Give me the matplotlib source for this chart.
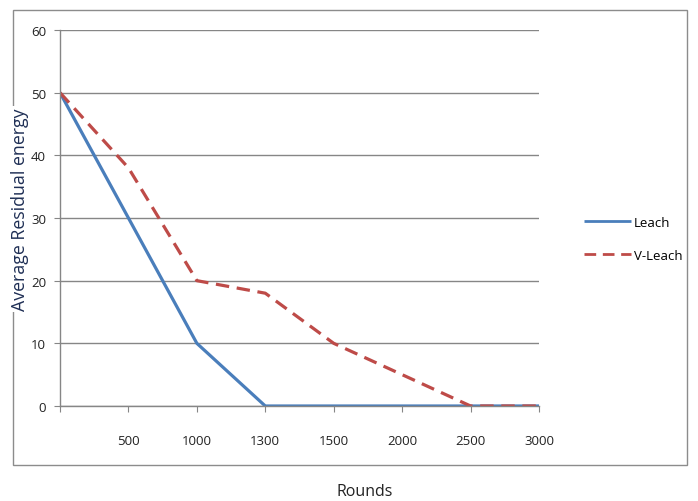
import matplotlib
matplotlib.use("Agg")
import matplotlib.pyplot as plt
from matplotlib.patches import Rectangle

categories = ["", "500", "1000", "1300", "1500", "2000", "2500", "3000"]
leach = [50, 30, 10, 0, 0, 0, 0, 0]
vleach = [50, 38, 20, 18, 10, 5, 0, 0]
yticks = [0, 10, 20, 30, 40, 50, 60]

plt.rcParams['font.family'] = ['Open Sans', 'DejaVu Sans']

fig = plt.figure(figsize=(6.98, 5.02), dpi=100)
ax = fig.add_axes([60/698, 1-407/502, (539-60)/698, (407-31)/502])

# chart border
fig.patches.append(Rectangle((13/698, 1-466/502), 674/698, 455/502,
                             transform=fig.transFigure, fill=False,
                             edgecolor='#8c8c8c', linewidth=1.0))

x = list(range(len(categories)))
ax.plot(x, leach, color='#4A7EBB', linewidth=2.3, label='Leach', solid_capstyle='butt')
ax.plot(x, vleach, color='#BE4B48', linewidth=2.3, linestyle=(0, (4.2, 2.4)), label='V-Leach')

ax.set_xlim(0, len(categories) - 1)
ax.set_ylim(0, 60)
ax.set_yticks(yticks)
ax.set_yticklabels([str(v) for v in yticks])
ax.set_xticks(x)
ax.set_xticklabels(categories)

ax.grid(axis='y', color='#868686', linewidth=1.0)
ax.set_axisbelow(True)
for s in ['top', 'right']:
    ax.spines[s].set_visible(False)
for s in ['left', 'bottom']:
    ax.spines[s].set_color('#868686')
    ax.spines[s].set_linewidth(1.0)

ax.tick_params(axis='x', direction='out', length=4, color='#868686', labelsize=9.5,
               labelcolor='#222222', pad=16)
ax.tick_params(axis='y', direction='out', length=4, color='#868686', labelsize=9.5,
               labelcolor='#222222', pad=6)

fig.text(20/698, 1-210/502, 'Average Residual energy', rotation=90, ha='center', va='center',
         fontsize=12.8, color='#1f2f55',
         bbox=dict(facecolor='white', edgecolor='none', pad=1))
fig.text(365/698, 1-492/502, 'Rounds', ha='center', va='center', fontsize=11.5, color='#222222')

leg = ax.legend(loc='center left', bbox_to_anchor=(572/698, 1-240/502),
                bbox_transform=fig.transFigure, frameon=False, fontsize=9.5,
                handlelength=3.6, handletextpad=0.2, labelspacing=1.5)
for h in leg.get_lines():
    h.set_linewidth(2.0)

fig.savefig('out.png', dpi=100)
